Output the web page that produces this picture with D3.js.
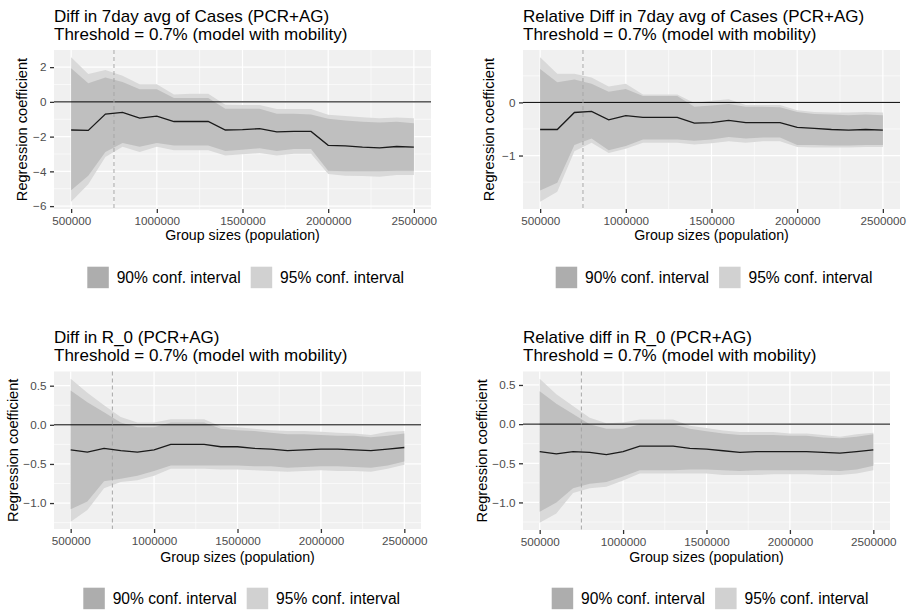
<!DOCTYPE html>
<html lang="en">
<head>
  <meta charset="UTF-8" />
  <script src="https://d3js.org/d3.v7.min.js"></script>
  <title>Regression coefficients by group size</title>
  <style>
    body { margin: 0; background: #fff; }
    text { font-family: "Liberation Sans", Arial, sans-serif; }
  </style>
</head>
<body>
  <svg width="911" height="612"></svg>

  <script>
    // x values (group sizes)
    const groupSizes = [500000, 600000, 700000, 800000, 900000, 1000000, 1100000,
      1200000, 1300000, 1400000, 1500000, 1600000, 1700000, 1800000, 1900000,
      2000000, 2100000, 2200000, 2300000, 2400000, 2500000];

    // Diff in 7day avg of Cases
    const casesMean = [-1.62, -1.64, -0.70, -0.60, -0.94, -0.82, -1.13, -1.13, -1.13, -1.62, -1.60,
      -1.54, -1.73, -1.70, -1.70, -2.50, -2.53, -2.61, -2.65, -2.57, -2.61];
    const casesHi95 = [2.57, 1.60, 1.83, 1.50, 1.01, 1.01, 0.43, 0.47, 0.47, -0.16, -0.18,
      -0.18, -0.41, -0.41, -0.41, -0.74, -0.82, -0.88, -0.94, -0.90, -0.94];
    const casesHi90 = [1.93, 1.07, 1.40, 1.15, 0.72, 0.72, 0.23, 0.23, 0.23, -0.39, -0.39,
      -0.39, -0.68, -0.68, -0.72, -0.97, -1.07, -1.15, -1.19, -1.15, -1.23];
    const casesLo90 = [-5.09, -4.25, -2.88, -2.36, -2.59, -2.36, -2.51, -2.51, -2.51, -2.83, -2.75,
      -2.67, -2.83, -2.71, -2.71, -3.96, -4.00, -4.00, -4.00, -3.96, -3.96];
    const casesLo95 = [-5.75, -4.74, -3.18, -2.59, -2.88, -2.59, -2.79, -2.79, -2.79, -3.08, -3.02,
      -2.94, -3.08, -2.98, -2.98, -4.15, -4.25, -4.27, -4.31, -4.21, -4.21];

    // Relative Diff in 7day avg of Cases
    const relCasesMean = [-0.51, -0.51, -0.19, -0.17, -0.33, -0.25, -0.28, -0.28, -0.28, -0.39, -0.38,
      -0.34, -0.38, -0.38, -0.38, -0.47, -0.49, -0.51, -0.52, -0.51, -0.52];
    const relCasesHi95 = [0.85, 0.54, 0.54, 0.47, 0.30, 0.35, 0.15, 0.15, 0.15, -0.01, 0.03,
      0.06, -0.05, -0.05, -0.05, -0.15, -0.18, -0.19, -0.19, -0.18, -0.19];
    const relCasesHi90 = [0.63, 0.38, 0.43, 0.35, 0.20, 0.25, 0.12, 0.12, 0.12, -0.08, -0.06,
      -0.03, -0.08, -0.08, -0.09, -0.18, -0.22, -0.23, -0.24, -0.23, -0.24];
    const relCasesLo90 = [-1.66, -1.51, -0.80, -0.68, -0.90, -0.82, -0.70, -0.70, -0.70, -0.72, -0.70,
      -0.65, -0.68, -0.66, -0.66, -0.80, -0.80, -0.81, -0.81, -0.80, -0.80];
    const relCasesLo95 = [-1.87, -1.68, -0.92, -0.76, -0.95, -0.87, -0.76, -0.76, -0.76, -0.79, -0.77,
      -0.73, -0.76, -0.73, -0.73, -0.84, -0.85, -0.85, -0.85, -0.84, -0.84];

    // Diff in R_0
    const r0Mean = [-0.32, -0.35, -0.30, -0.33, -0.35, -0.32, -0.25, -0.25, -0.25, -0.28, -0.28,
      -0.30, -0.31, -0.33, -0.32, -0.31, -0.31, -0.32, -0.33, -0.31, -0.29];
    const r0Hi95 = [0.59, 0.41, 0.25, 0.10, 0.03, 0.03, 0.07, 0.07, 0.07, -0.02, -0.03,
      -0.05, -0.07, -0.08, -0.08, -0.09, -0.10, -0.11, -0.13, -0.09, -0.08];
    const r0Hi90 = [0.44, 0.29, 0.16, 0.03, -0.03, -0.03, 0.03, 0.03, 0.03, -0.05, -0.07,
      -0.08, -0.10, -0.12, -0.12, -0.13, -0.14, -0.14, -0.16, -0.14, -0.11];
    const r0Lo90 = [-1.08, -0.98, -0.72, -0.69, -0.65, -0.59, -0.52, -0.52, -0.52, -0.52, -0.52,
      -0.53, -0.53, -0.55, -0.54, -0.53, -0.53, -0.54, -0.55, -0.52, -0.47];
    const r0Lo95 = [-1.24, -1.09, -0.81, -0.73, -0.71, -0.65, -0.56, -0.56, -0.56, -0.57, -0.57,
      -0.58, -0.59, -0.60, -0.59, -0.58, -0.59, -0.59, -0.60, -0.56, -0.51];

    // Relative diff in R_0
    const relR0Mean = [-0.35, -0.38, -0.35, -0.36, -0.39, -0.35, -0.28, -0.28, -0.28, -0.31, -0.32,
      -0.34, -0.36, -0.35, -0.35, -0.35, -0.35, -0.36, -0.37, -0.35, -0.33];
    const relR0Hi95 = [0.58, 0.38, 0.23, 0.08, 0.01, 0.02, 0.06, 0.06, 0.06, -0.02, -0.05,
      -0.08, -0.10, -0.10, -0.10, -0.12, -0.12, -0.14, -0.16, -0.13, -0.11];
    const relR0Hi90 = [0.42, 0.26, 0.13, 0.00, -0.06, -0.06, 0.00, 0.00, 0.00, -0.06, -0.09,
      -0.12, -0.14, -0.14, -0.14, -0.15, -0.15, -0.17, -0.18, -0.16, -0.13];
    const relR0Lo90 = [-1.12, -1.00, -0.82, -0.76, -0.74, -0.67, -0.59, -0.59, -0.59, -0.58, -0.58,
      -0.59, -0.60, -0.59, -0.59, -0.59, -0.59, -0.59, -0.60, -0.58, -0.53];
    const relR0Lo95 = [-1.26, -1.14, -0.88, -0.82, -0.80, -0.72, -0.63, -0.63, -0.63, -0.63, -0.63,
      -0.65, -0.65, -0.65, -0.64, -0.64, -0.64, -0.65, -0.65, -0.63, -0.59];

    const xTicks = [500000, 1000000, 1500000, 2000000, 2500000];
    const xMinor = [750000, 1250000, 1750000, 2250000];
    const cutoff = 750000;
    const legendLabels = ["90% conf. interval", "95% conf. interval"];
    const subtitle = "Threshold = 0.7% (model with mobility)";

    const panels = [
      { title: "Diff in 7day avg of Cases (PCR+AG)",
        mean: casesMean, lo90: casesLo90, hi90: casesHi90, lo95: casesLo95, hi95: casesHi95,
        yTicks: [-6, -4, -2, 0, 2], yMinor: [-5, -3, -1, 1], yFmt: d3.format("d"),
        box: { l: 54, r: 431, t: 50, b: 209 }, titleX: 54, titleY: 22, yTitleX: 22,
        tickY: 225, xTitleY: 240, legX: 87.3, legY: 266.7 },
      { title: "Relative Diff in 7day avg of Cases (PCR+AG)",
        mean: relCasesMean, lo90: relCasesLo90, hi90: relCasesHi90, lo95: relCasesLo95, hi95: relCasesHi95,
        yTicks: [-1, 0], yMinor: [-1.5, -0.5, 0.5], yFmt: d3.format("d"),
        box: { l: 523, r: 900, t: 50, b: 209 }, titleX: 523, titleY: 22, yTitleX: 489,
        tickY: 225, xTitleY: 240, legX: 555.7, legY: 266.7 },
      { title: "Diff in R_0 (PCR+AG)",
        mean: r0Mean, lo90: r0Lo90, hi90: r0Hi90, lo95: r0Lo95, hi95: r0Hi95,
        yTicks: [-1, -0.5, 0, 0.5], yMinor: [-1.25, -0.75, -0.25, 0.25], yFmt: d3.format(".1f"),
        box: { l: 54, r: 421, t: 371.5, b: 529 }, titleX: 54, titleY: 343, yTitleX: 13.3,
        tickY: 544, xTitleY: 562, legX: 83.3, legY: 587.7 },
      { title: "Relative diff in R_0 (PCR+AG)",
        mean: relR0Mean, lo90: relR0Lo90, hi90: relR0Hi90, lo95: relR0Lo95, hi95: relR0Hi95,
        yTicks: [-1, -0.5, 0, 0.5], yMinor: [-1.25, -0.75, -0.25, 0.25], yFmt: d3.format(".1f"),
        box: { l: 523, r: 890, t: 371.5, b: 530 }, titleX: 523, titleY: 343, yTitleX: 481.7,
        tickY: 544, xTitleY: 562, legX: 551.7, legY: 587.7 }
    ];

    const svg = d3.select("svg");

    panels.forEach(p => {
      const g = svg.append("g");
      const b = p.box;

      const xSpan = d3.extent(groupSizes);
      const xPad = (xSpan[1] - xSpan[0]) * 0.05;
      const x = d3.scaleLinear().domain([xSpan[0] - xPad, xSpan[1] + xPad]).range([b.l, b.r]);

      const yMin = d3.min(p.lo95), yMax = d3.max(p.hi95);
      const yPad = (yMax - yMin) * 0.05;
      const y = d3.scaleLinear().domain([yMin - yPad, yMax + yPad]).range([b.b, b.t]);

      // panel background + grid
      g.append("rect")
        .attr("x", b.l).attr("y", b.t)
        .attr("width", b.r - b.l).attr("height", b.b - b.t)
        .attr("fill", "#f0f0f0");

      g.selectAll(".ymin").data(p.yMinor).enter().append("line")
        .attr("x1", b.l).attr("x2", b.r)
        .attr("y1", d => y(d)).attr("y2", d => y(d))
        .attr("stroke", "#fff").attr("stroke-width", 0.6);
      g.selectAll(".xmin").data(xMinor).enter().append("line")
        .attr("y1", b.t).attr("y2", b.b)
        .attr("x1", d => x(d)).attr("x2", d => x(d))
        .attr("stroke", "#fff").attr("stroke-width", 0.6);
      g.selectAll(".ymaj").data(p.yTicks).enter().append("line")
        .attr("x1", b.l).attr("x2", b.r)
        .attr("y1", d => y(d)).attr("y2", d => y(d))
        .attr("stroke", "#fff").attr("stroke-width", 1.2);
      g.selectAll(".xmaj").data(xTicks).enter().append("line")
        .attr("y1", b.t).attr("y2", b.b)
        .attr("x1", d => x(d)).attr("x2", d => x(d))
        .attr("stroke", "#fff").attr("stroke-width", 1.2);

      // bands
      const band = (lo, hi) => d3.area()
        .x((d, i) => x(groupSizes[i]))
        .y0((d, i) => y(lo[i]))
        .y1((d, i) => y(hi[i]));

      g.append("path")
        .attr("d", band(p.lo95, p.hi95)(groupSizes))
        .attr("fill", "#d9d9d9");
      g.append("path")
        .attr("d", band(p.lo90, p.hi90)(groupSizes))
        .attr("fill", "#bfbfbf");

      // zero line and cutoff
      g.append("line")
        .attr("x1", b.l).attr("x2", b.r)
        .attr("y1", y(0)).attr("y2", y(0))
        .attr("stroke", "#000").attr("stroke-width", 1);
      g.append("line")
        .attr("x1", x(cutoff)).attr("x2", x(cutoff))
        .attr("y1", b.t).attr("y2", b.b)
        .attr("stroke", "#a6a6a6").attr("stroke-width", 1)
        .attr("stroke-dasharray", "4,3");

      // mean line
      g.append("path")
        .datum(p.mean)
        .attr("d", d3.line().x((d, i) => x(groupSizes[i])).y(d => y(d)))
        .attr("fill", "none")
        .attr("stroke", "#1a1a1a")
        .attr("stroke-width", 1.3);

      // axes
      const xAxis = g.append("g")
        .attr("transform", `translate(0,${b.b})`)
        .call(d3.axisBottom(x).tickValues(xTicks).tickFormat(d3.format("d"))
          .tickSize(4).tickPadding(3.4));
      const yAxis = g.append("g")
        .attr("transform", `translate(${b.l},0)`)
        .call(d3.axisLeft(y).tickValues(p.yTicks).tickFormat(p.yFmt)
          .tickSize(4).tickPadding(3.6));
      [xAxis, yAxis].forEach(a => {
        a.select(".domain").remove();
        a.selectAll(".tick line").attr("stroke", "#333").attr("stroke-width", 1.3);
        a.selectAll(".tick text")
          .attr("fill", "#4d4d4d")
          .style("font-size", "11.7px")
          .style("font-family", "'Liberation Sans', Arial, sans-serif");
      });

      // titles
      const t = g.append("text")
        .attr("x", p.titleX).attr("y", p.titleY)
        .attr("fill", "#000")
        .style("font-size", "17px");
      t.append("tspan").attr("x", p.titleX).text(p.title);
      t.append("tspan").attr("x", p.titleX).attr("dy", 17.8).text(subtitle);

      g.append("text")
        .attr("x", (b.l + b.r) / 2).attr("y", p.xTitleY)
        .attr("text-anchor", "middle")
        .style("font-size", "14.2px")
        .text("Group sizes (population)");

      g.append("text")
        .attr("transform", `translate(${p.yTitleX + 5},${(b.t + b.b) / 2}) rotate(-90)`)
        .attr("text-anchor", "middle")
        .style("font-size", "14.6px")
        .text("Regression coefficient");

      // legend
      const keyFill = ["#adadad", "#d1d1d1"];
      const leg = g.append("g").attr("transform", `translate(${p.legX},${p.legY})`);
      legendLabels.forEach((lab, i) => {
        const ox = i * 163.4;
        leg.append("rect")
          .attr("x", ox).attr("y", 0)
          .attr("width", 21.5).attr("height", 21.5)
          .attr("fill", keyFill[i]);
        leg.append("text")
          .attr("x", ox + 29.4).attr("y", 16.3)
          .style("font-size", "15.6px")
          .text(lab);
      });
    });
  </script>
</body>
</html>
